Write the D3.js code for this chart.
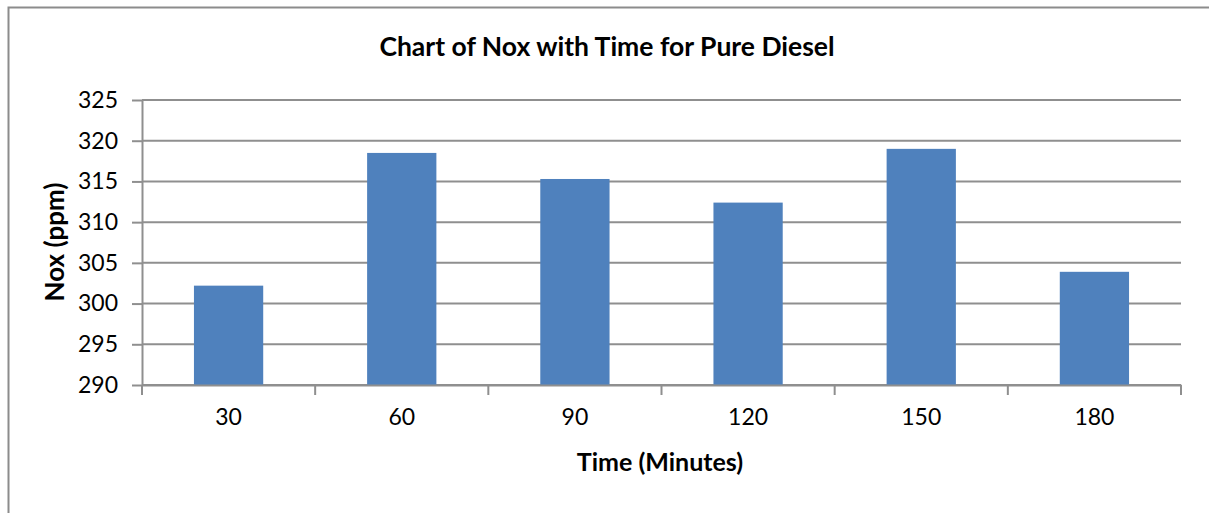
<!DOCTYPE html>
<html>
<head>
<meta charset="utf-8">
<script src="https://cdn.jsdelivr.net/npm/d3@7"></script>
<style>
  body { margin: 0; background: #fff; }
  svg text { font-family: Lato, "Open Sans", sans-serif; fill: #000; }
</style>
</head>
<body>
<div id="chart"></div>
<script>
const times = ["30", "60", "90", "120", "150", "180"];
const noxValues = [302.2, 318.5, 315.3, 312.4, 319.0, 303.9];
const yTicks = [290, 295, 300, 305, 310, 315, 320, 325];

const width = 1209;
const height = 513;
const margin = { top: 100, right: 28, bottom: 128, left: 142 };

const svg = d3
  .select("#chart")
  .append("svg")
  .attr("width", width)
  .attr("height", height);

// outer chart border (left and top only visible)
svg
  .append("path")
  .attr("d", `M8.5,${height} L8.5,7.5 L${width},7.5`)
  .attr("fill", "none")
  .attr("stroke", "#8c8c8c")
  .attr("stroke-width", 2);

const x = d3
  .scaleBand()
  .domain(times)
  .range([margin.left, width - margin.right])
  .paddingInner(0.6)
  .paddingOuter(0.3);

const y = d3
  .scaleLinear()
  .domain([290, 325])
  .range([height - margin.bottom, margin.top]);

// gridlines
svg
  .append("g")
  .selectAll("line")
  .data(yTicks)
  .join("line")
  .attr("x1", margin.left)
  .attr("x2", width - margin.right)
  .attr("y1", d => y(d))
  .attr("y2", d => y(d))
  .attr("stroke", "#8f8f8f")
  .attr("stroke-width", 2);

// bars
svg
  .append("g")
  .selectAll("rect")
  .data(noxValues)
  .join("rect")
  .attr("x", (d, i) => x(times[i]))
  .attr("width", x.bandwidth())
  .attr("y", d => y(d))
  .attr("height", d => y(290) - y(d))
  .attr("fill", "#4f81bd");

// y axis
const yAxis = svg
  .append("g")
  .attr("transform", `translate(${margin.left},0)`)
  .call(d3.axisLeft(y).tickValues(yTicks).tickSize(10).tickSizeOuter(0).tickPadding(14));
yAxis.select(".domain").attr("stroke", "#8f8f8f").attr("stroke-width", 2);
yAxis.selectAll(".tick line").attr("stroke", "#8f8f8f").attr("stroke-width", 2);
yAxis.selectAll(".tick text").style("font-size", "23px");

// x axis with ticks at category boundaries
const xAxis = svg
  .append("g")
  .attr("transform", `translate(0,${y(290)})`)
  .call(d3.axisBottom(x).tickSize(0).tickPadding(24));
xAxis.select(".domain").attr("stroke", "#8f8f8f").attr("stroke-width", 2);
xAxis.selectAll(".tick text").style("font-size", "23px");

const step = (width - margin.right - margin.left) / times.length;
xAxis
  .append("g")
  .selectAll("line")
  .data(d3.range(times.length + 1))
  .join("line")
  .attr("x1", i => margin.left + i * step)
  .attr("x2", i => margin.left + i * step)
  .attr("y1", 0)
  .attr("y2", 10)
  .attr("stroke", "#8f8f8f")
  .attr("stroke-width", 2);

// title
svg
  .append("text")
  .attr("x", 607)
  .attr("y", 56)
  .attr("text-anchor", "middle")
  .style("font-size", "26.5px")
  .style("font-weight", "bold")
  .text("Chart of Nox with Time for Pure Diesel");

// axis titles
svg
  .append("text")
  .attr("x", 660)
  .attr("y", 471)
  .attr("text-anchor", "middle")
  .style("font-size", "25px")
  .style("font-weight", "bold")
  .text("Time (Minutes)");

svg
  .append("text")
  .attr("transform", "translate(64,242) rotate(-90)")
  .attr("text-anchor", "middle")
  .style("font-size", "26px")
  .style("font-weight", "bold")
  .text("Nox (ppm)");
</script>
</body>
</html>
